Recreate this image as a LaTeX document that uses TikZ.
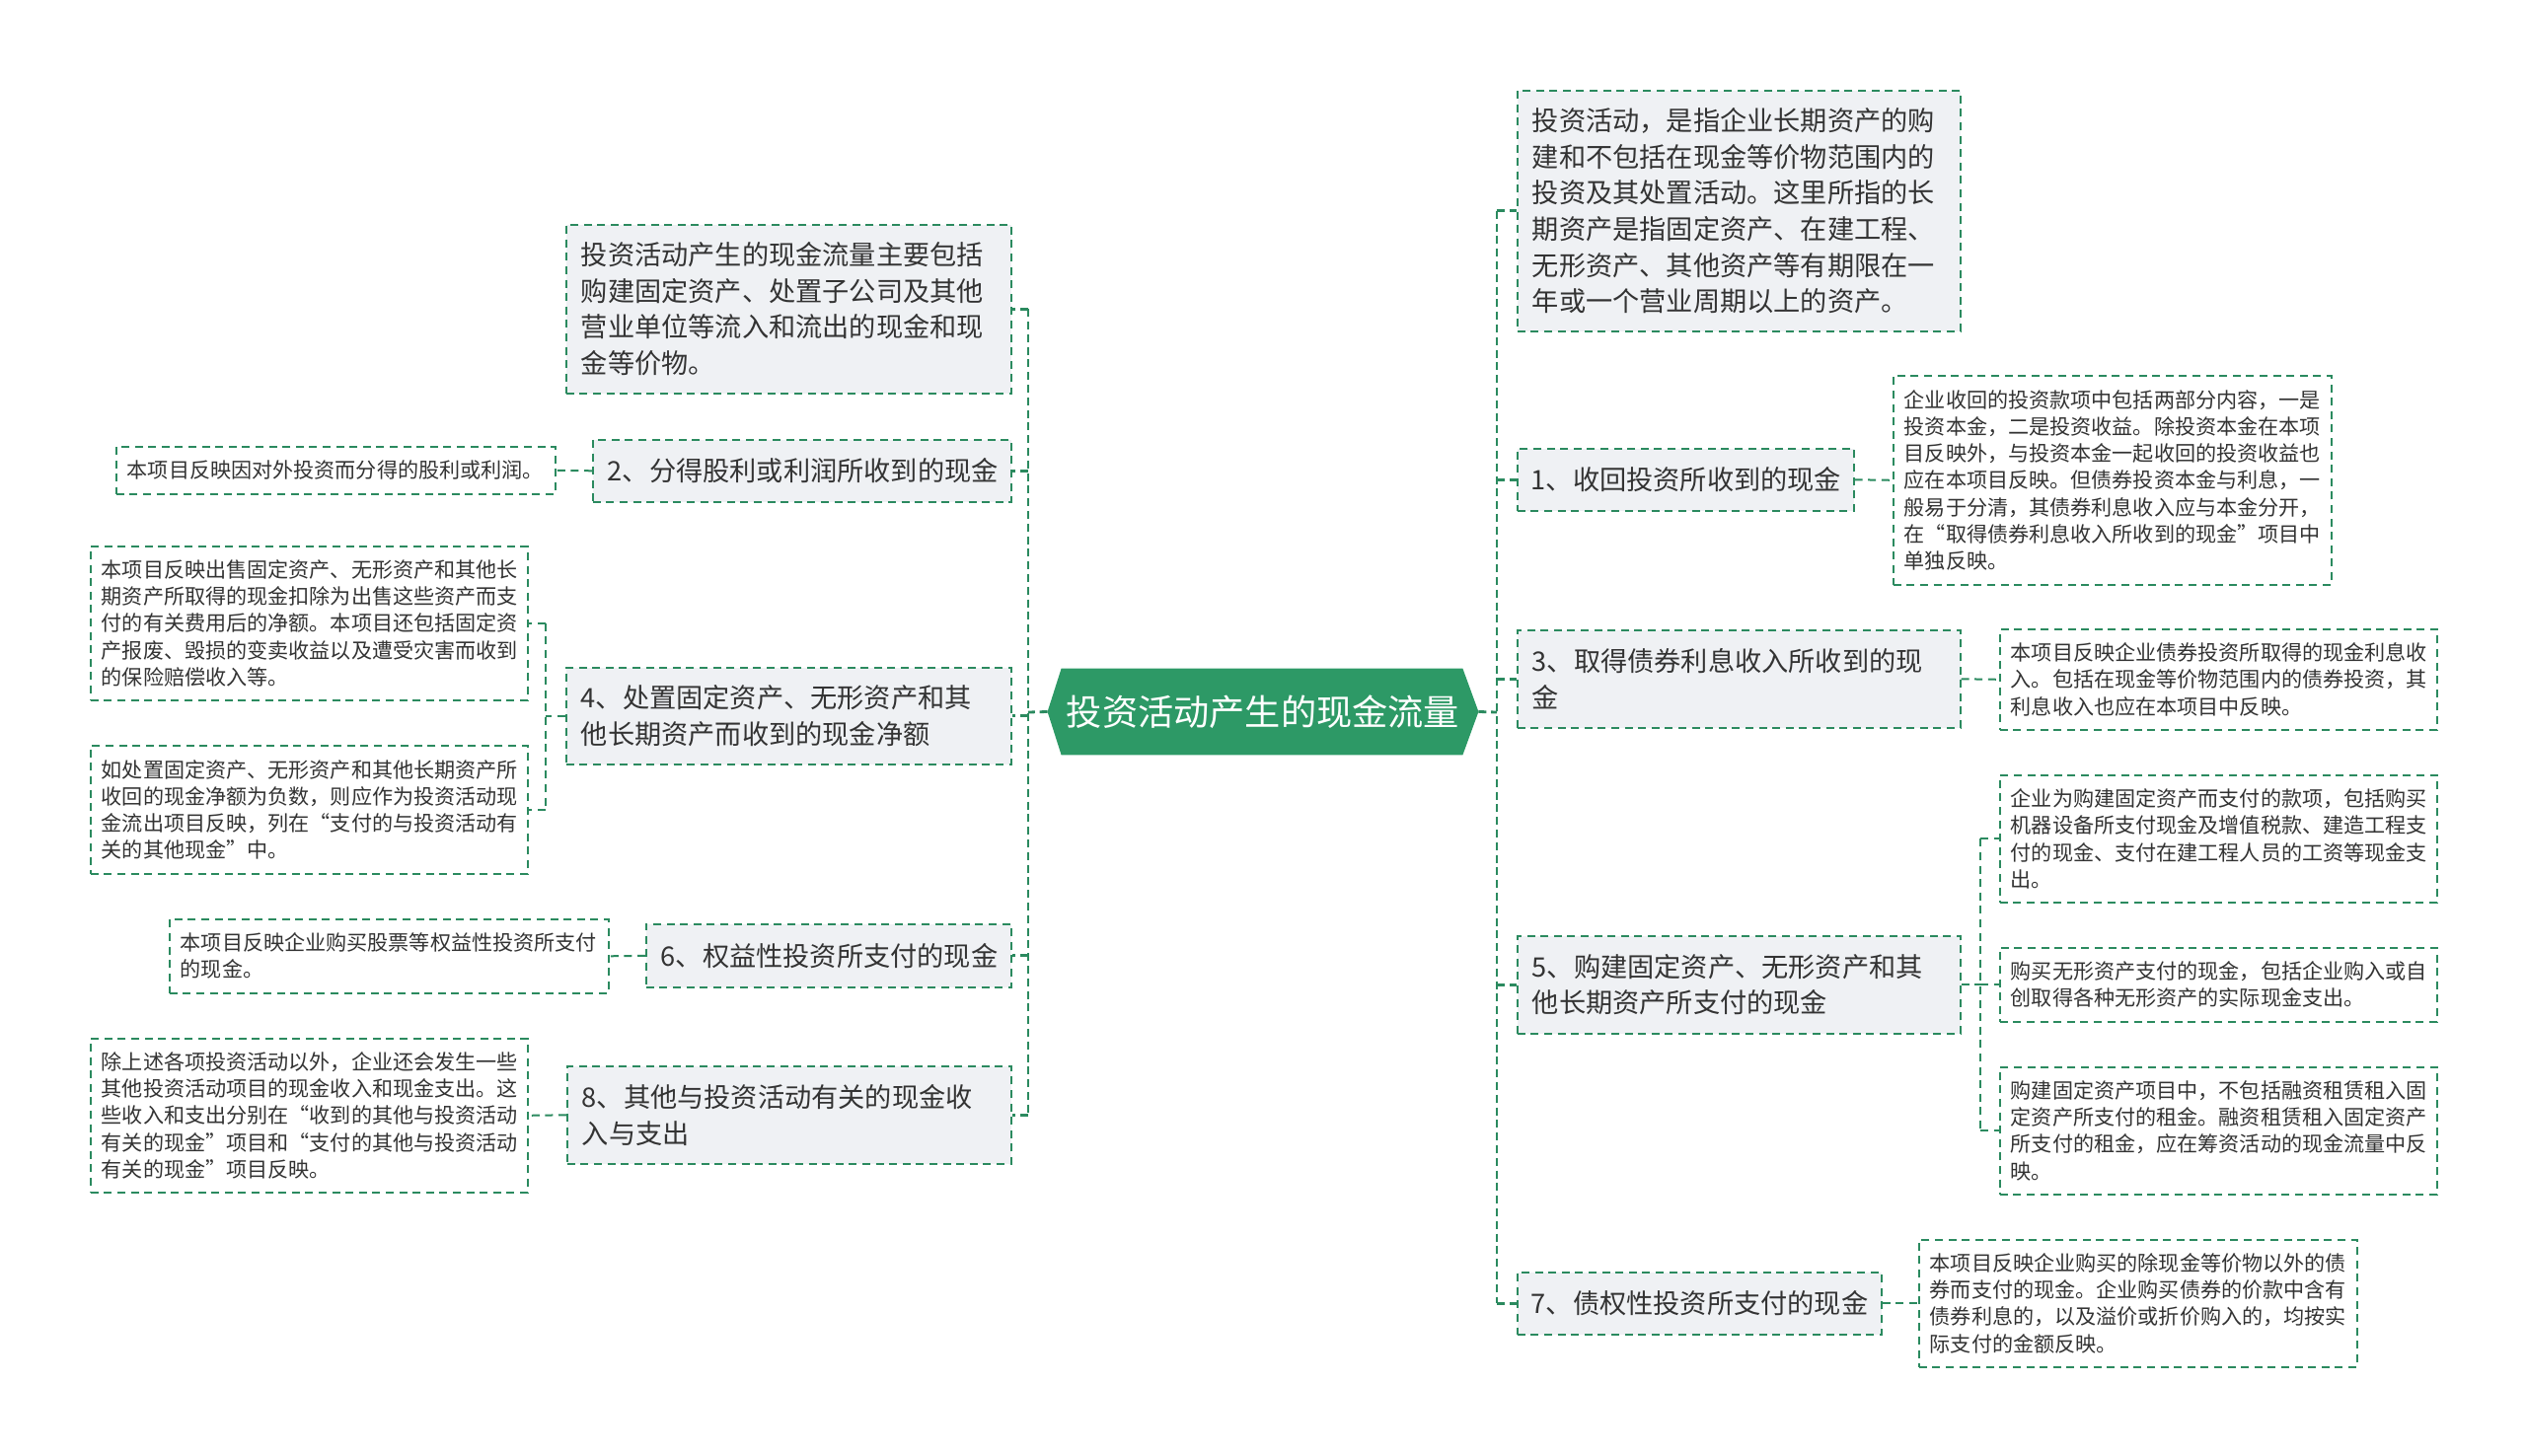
\documentclass[tikz,border=0pt]{standalone}
\usepackage{fontspec}
\setmainfont{Noto Sans CJK SC}
\newfontfamily\fwq[RawFeature=+fwid]{Noto Sans CJK SC}
\newcommand\qL{{\fwq “}}
\newcommand\qR{{\fwq ”}}
\usetikzlibrary{backgrounds}
\definecolor{lnc}{HTML}{2B8A5F}
\definecolor{cfill}{HTML}{2D9966}
\definecolor{bfill}{HTML}{EFF1F4}
\definecolor{txt}{HTML}{333333}
\tikzset{
  leaf/.style={draw=lnc, line width=0.8pt, dash pattern=on 4pt off 2.8pt, fill=white, text=txt, align=left, inner ysep=0pt, font=\fontsize{10.55pt}{13.6pt}\selectfont},
  branch/.style={draw=lnc, line width=0.8pt, dash pattern=on 4pt off 2.8pt, fill=bfill, text=txt, align=left, inner ysep=0pt, font=\fontsize{13.6pt}{18.35pt}\selectfont},
  ctext/.style={text=white, inner sep=0pt, minimum width=218pt, minimum height=43.5pt, font=\fontsize{18.1pt}{22pt}\selectfont},
  link1/.style={draw=lnc, line width=1.4pt, dash pattern=on 4pt off 2.4pt},
  link2/.style={draw=lnc, line width=1pt, dash pattern=on 4pt off 2.8pt},
}
\newcommand\boxnode[8]{%
  \pgfmathsetmacro\myBW{(#6-#4)/2}%
  \pgfmathsetmacro\myBH{(#7-#5)/2}%
  \pgfmathsetmacro\myTW{\myBW-2*#2}%
  \node[#1, inner xsep=#2pt, anchor=north west, minimum width=\myBW pt, minimum height=\myBH pt, text width=\myTW pt] (#3) at (#4,#5) {#8};}
\begin{document}
\begin{tikzpicture}[x=0.5pt, y={(0pt,-0.5pt)}]
\useasboundingbox (0,0) rectangle (2560,1476);

% centre
\node[ctext] (c) at (1280,721.5) {投资活动产生的现金流量};
\begin{pgfonlayer}{background}
\fill[white] (0,0) rectangle (2560,1476);
\fill[cfill] ([xshift=7pt]c.north west) -- ([xshift=-8pt]c.north east) -- (c.east) -- ([xshift=-8pt]c.south east) -- ([xshift=7pt]c.south west) -- (c.west) -- cycle;
\end{pgfonlayer}

% left branches
\boxnode{branch}{7.5}{L0}{573}{227}{1024}{398}{投资活动产生的现金流量主要包括\\购建固定资产、处置子公司及其他\\营业单位等流入和流出的现金和现\\金等价物。}
\boxnode{branch}{7.5}{L2}{600}{445}{1024}{508}{2、分得股利或利润所收到的现金}
\boxnode{branch}{7.5}{L4}{573}{676}{1024}{774}{4、处置固定资产、无形资产和其\\他长期资产而收到的现金净额}
\boxnode{branch}{7.5}{L6}{654}{936}{1024}{1000}{6、权益性投资所支付的现金}
\boxnode{branch}{7.5}{L8}{574}{1080}{1024}{1179}{8、其他与投资活动有关的现金收\\入与支出}

% left leaves
\boxnode{leaf}{5.5}{L2a}{117}{452}{562}{500}{本项目反映因对外投资而分得的股利或利润。}
\boxnode{leaf}{5.5}{L4a}{91}{553}{534}{709}{本项目反映出售固定资产、无形资产和其他长\\期资产所取得的现金扣除为出售这些资产而支\\付的有关费用后的净额。本项目还包括固定资\\产报废、毁损的变卖收益以及遭受灾害而收到\\的保险赔偿收入等。}
\boxnode{leaf}{5.5}{L4b}{91}{755}{534}{885}{如处置固定资产、无形资产和其他长期资产所\\收回的现金净额为负数，则应作为投资活动现\\金流出项目反映，列在\qL 支付的与投资活动有\\关的其他现金\qR 中。}
\boxnode{leaf}{5.5}{L6a}{171}{931}{616}{1006}{本项目反映企业购买股票等权益性投资所支付\\的现金。}
\boxnode{leaf}{5.5}{L8a}{91}{1052}{534}{1208}{除上述各项投资活动以外，企业还会发生一些\\其他投资活动项目的现金收入和现金支出。这\\些收入和支出分别在\qL 收到的其他与投资活动\\有关的现金\qR 项目和\qL 支付的其他与投资活动\\有关的现金\qR 项目反映。}

% right branches
\boxnode{branch}{7.5}{R0}{1537}{91}{1986}{335}{投资活动，是指企业长期资产的购\\建和不包括在现金等价物范围内的\\投资及其处置活动。这里所指的长\\期资产是指固定资产、在建工程、\\无形资产、其他资产等有期限在一\\年或一个营业周期以上的资产。}
\boxnode{branch}{7}{R1}{1537}{454}{1878}{517}{1、收回投资所收到的现金}
\boxnode{branch}{7.5}{R3}{1537}{638}{1986}{737}{3、取得债券利息收入所收到的现\\金}
\boxnode{branch}{7.5}{R5}{1537}{948}{1986}{1047}{5、购建固定资产、无形资产和其\\他长期资产所支付的现金}
\boxnode{branch}{7}{R7}{1537}{1289}{1906}{1352}{7、债权性投资所支付的现金}

% right leaves
\boxnode{leaf}{5.5}{R1a}{1918}{380}{2362}{592}{企业收回的投资款项中包括两部分内容，一是\\投资本金，二是投资收益。除投资本金在本项\\目反映外，与投资本金一起收回的投资收益也\\应在本项目反映。但债券投资本金与利息，一\\般易于分清，其债券利息收入应与本金分开，\\在\qL 取得债券利息收入所收到的现金\qR 项目中\\单独反映。}
\boxnode{leaf}{5.5}{R3a}{2026}{637}{2469}{739}{本项目反映企业债券投资所取得的现金利息收\\入。包括在现金等价物范围内的债券投资，其\\利息收入也应在本项目中反映。}
\boxnode{leaf}{5.5}{R5a}{2026}{785}{2469}{914}{企业为购建固定资产而支付的款项，包括购买\\机器设备所支付现金及增值税款、建造工程支\\付的现金、支付在建工程人员的工资等现金支\\出。}
\boxnode{leaf}{5.5}{R5b}{2026}{960}{2469}{1035}{购买无形资产支付的现金，包括企业购入或自\\创取得各种无形资产的实际现金支出。}
\boxnode{leaf}{5.5}{R5c}{2026}{1081}{2469}{1210}{购建固定资产项目中，不包括融资租赁租入固\\定资产所支付的租金。融资租赁租入固定资产\\所支付的租金，应在筹资活动的现金流量中反\\映。}
\boxnode{leaf}{5.5}{R7a}{1944}{1256}{2388}{1385}{本项目反映企业购买的除现金等价物以外的债\\券而支付的现金。企业购买债券的价款中含有\\债券利息的，以及溢价或折价购入的，均按实\\际支付的金额反映。}

% first-level connectors
\coordinate (jL) at (1042,722);
\coordinate (jR) at (1517,722);
\draw[link1] (c.west) -- (jL);
\draw[link1] (jL |- L0.east) -- (jL |- L8.east);
\foreach \n in {L0,L2,L4,L6,L8} \draw[link1] (jL |- \n.east) -- (\n.east);
\draw[link1] (c.east) -- (jR);
\draw[link1] (jR |- R0.west) -- (jR |- R7.west);
\foreach \n in {R0,R1,R3,R5,R7} \draw[link1] (jR |- \n.west) -- (\n.west);

% second-level connectors
\draw[link2] (L2.west) -- (L2a.east);
\draw[link2] (L6.west) -- (L6a.east);
\draw[link2] (L8.west) -- (L8a.east);
\coordinate (jL4) at (553,725);
\draw[link2] (L4.west) -- (jL4 |- L4.west);
\draw[link2] (jL4 |- L4a.east) -- (jL4 |- L4b.east);
\foreach \n in {L4a,L4b} \draw[link2] (jL4 |- \n.east) -- (\n.east);

\draw[link2] (R1.east) -- (R1a.west);
\draw[link2] (R3.east) -- (R3a.west);
\draw[link2] (R7.east) -- (R7a.west);
\coordinate (jR5) at (2007,998);
\draw[link2] (R5.east) -- (jR5 |- R5.east);
\draw[link2] (jR5 |- R5a.west) -- (jR5 |- R5c.west);
\foreach \n in {R5a,R5b,R5c} \draw[link2] (jR5 |- \n.west) -- (\n.west);
\end{tikzpicture}
\end{document}
